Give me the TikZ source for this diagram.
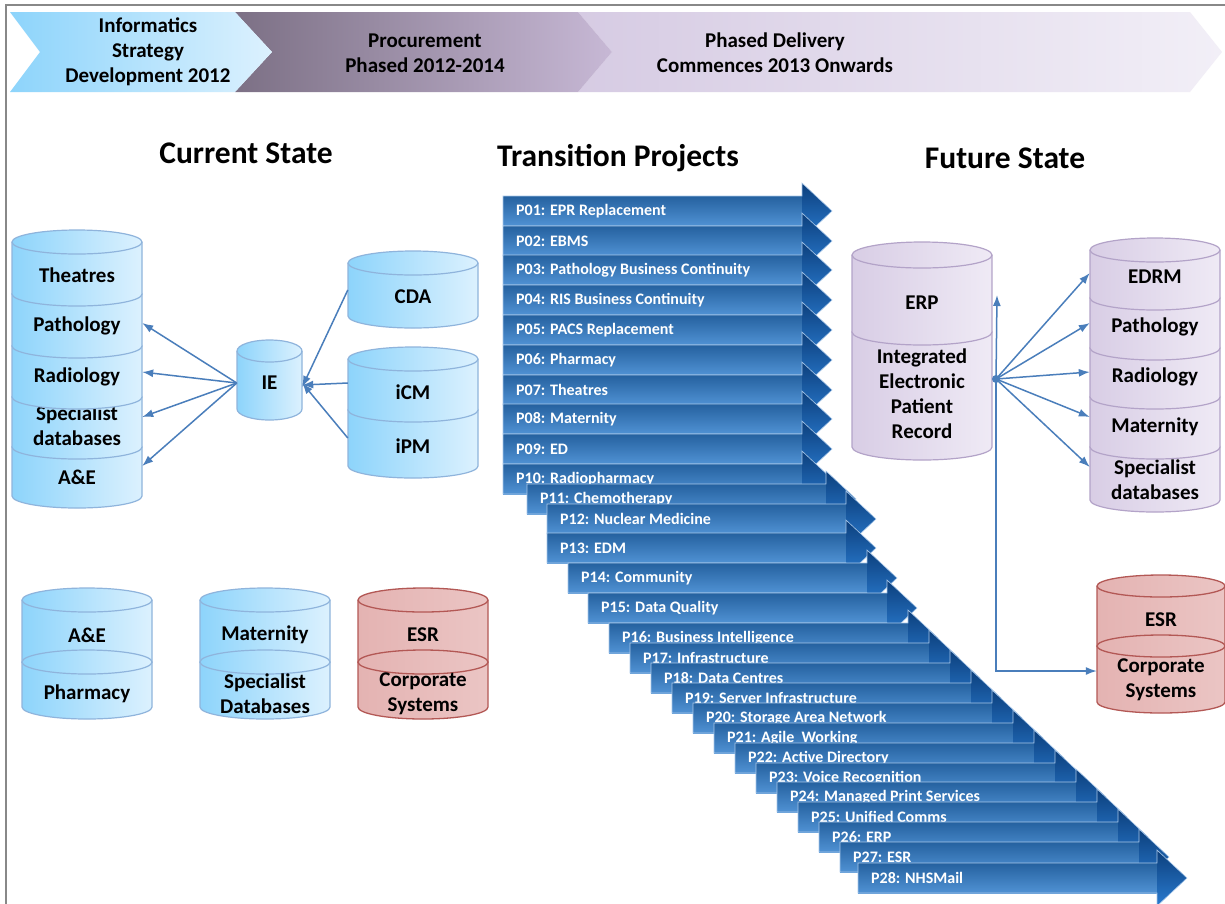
\documentclass[tikz,border=0pt]{standalone}
\usepackage{fontspec}
\setmainfont{Carlito}
\usetikzlibrary{arrows.meta,positioning}
\definecolor{sky}{HTML}{8DD4FB}
\definecolor{skypale}{HTML}{DCF1FE}
\definecolor{skyedge}{HTML}{8FB4DC}
\definecolor{lilac}{HTML}{D8CDE5}
\definecolor{lilacpale}{HTML}{EFEAF5}
\definecolor{lilacedge}{HTML}{B3A3C8}
\definecolor{rose}{HTML}{E4B3B2}
\definecolor{rosepale}{HTML}{EBC5C4}
\definecolor{roseedge}{HTML}{B35855}
\definecolor{mauve}{HTML}{7C7085}
\definecolor{mauvepale}{HTML}{C7B8D5}
\definecolor{haze}{HTML}{D6CBE3}
\definecolor{hazepale}{HTML}{F2EFF7}
\definecolor{navy}{HTML}{25619F}
\definecolor{azure}{HTML}{5092D4}
\definecolor{inkblue}{HTML}{0C3F7C}
\definecolor{brightblue}{HTML}{2A7BD0}
\definecolor{barline}{HTML}{A9C8EA}
\definecolor{link}{HTML}{4A7EBB}
\definecolor{frame}{HTML}{888888}

\newcommand\drumry{12}
% drum body: style, left, width, lid y, base y
\newcommand\drum[5]{%
  \path[#1] (#2,#4) -- (#2,#5)
    arc[start angle=180,end angle=0,x radius=#3/2,y radius=\drumry]
    -- (#2+#3,#4)
    arc[start angle=0,end angle=-180,x radius=#3/2,y radius=\drumry] -- cycle;}
% front rim of a drum lid
\newcommand\lid[4]{%
  \draw[#1] (#2,#4) arc[start angle=180,end angle=0,x radius=#3/2,y radius=\drumry];}

\begin{document}
\begin{tikzpicture}[x=1pt,y=-1pt,
  bluedb/.style={draw=skyedge,line width=1.2pt,left color=sky,right color=skypale},
  bluerim/.style={draw=skyedge,line width=1.2pt},
  lilacdb/.style={draw=lilacedge,line width=1.2pt,left color=lilac,right color=lilacpale},
  lilacrim/.style={draw=lilacedge,line width=1.2pt},
  rosedb/.style={draw=roseedge,line width=1.3pt,left color=rose,right color=rosepale},
  roserim/.style={draw=roseedge,line width=1.3pt},
  lbl/.style={font=\fontsize{21}{25}\selectfont\bfseries,align=center,inner sep=0pt},
  title/.style={font=\fontsize{31.5}{36}\selectfont\bfseries,inner sep=0pt},
  phase/.style={font=\fontsize{21}{25}\selectfont\bfseries,align=center,inner sep=0pt},
  bar/.style={top color=navy,bottom color=azure},
  barhead/.style={top color=inkblue,bottom color=brightblue},
  barrim/.style={draw=barline,line width=0.6pt},
  bartext/.style={font=\fontsize{16}{18}\selectfont\bfseries,text=white,inner sep=0pt,anchor=west},
  arr/.style={draw=link,line width=1.5pt,-{Latex[length=11pt,width=8pt]}}
]
\useasboundingbox (0,0) rectangle (1225,903);
\clip (0,0) rectangle (1225,903);
\fill[white] (0,0) rectangle (1225,903);
\draw[frame,line width=2pt] (6,910) -- (6,5) -- (1230,5);

% phases along the top
\path[left color=haze,right color=hazepale]
  (578,12) -- (1190,12) -- (1222,52) -- (1190,92) -- (578,92) -- (612,52) -- cycle;
\path[left color=mauve,right color=mauvepale]
  (235,12) -- (578,12) -- (612,52) -- (578,92) -- (235,92) -- (272,52) -- cycle;
\path[left color=sky,right color=skypale]
  (10,12) -- (235,12) -- (272,52) -- (235,92) -- (10,92) -- (40,52) -- cycle;
\node[phase] (strat) at (148,52) {Informatics\\Strategy\\Development 2012};
\node[phase] (proc) at (425,53) {Procurement\\Phased 2012-2014};
\node[phase] (deliv) at (775,53) {Phased Delivery\\Commences 2013 Onwards};

% headings
\node[title] (cur) at (246,153) {Current State};
\node[title] (trans) at (618,158) {Transition Projects};
\node[title] (fut) at (1005,158) {Future State};

% current state: clinical stack
\foreach \nm/\a/\b/\ty/\txt in {aeL/447/496/477/A\&E,specL/397/447/426/{Specialist\\databases},
    radL/346/397/377/Radiology,pathL/294/346/326/Pathology,theatres/242/294/275/Theatres}{
  \drum{bluedb}{12}{130}{\a}{\b}
  \node[lbl,minimum width=130pt] (\nm) at (77,\ty) {\txt};
}
\lid{bluerim}{12}{130}{242}

% integration engine and feeds
\renewcommand\drumry{11}
\drum{bluedb}{237}{65}{351}{409}
\lid{bluerim}{237}{65}{351}
\node[lbl,minimum width=65pt] (ie) at (269.5,383) {IE};
\renewcommand\drumry{12}
\drum{bluedb}{348}{130}{263}{316}
\lid{bluerim}{348}{130}{263}
\node[lbl,minimum width=130pt] (cda) at (413,297) {CDA};
\drum{bluedb}{348}{130}{410}{466}
\node[lbl,minimum width=130pt] (ipm) at (413,446) {iPM};
\drum{bluedb}{348}{130}{359}{410}
\lid{bluerim}{348}{130}{359}
\node[lbl,minimum width=130pt] (icm) at (413,392) {iCM};

\foreach \t/\s in {pathL/3,radL/5,specL/9,aeL/11}{
  \draw[arr] (ie.west) -- ([yshift=\s pt]\t.east);
}
\draw[arr] ([yshift=7pt]cda.west) -- ([yshift=-4pt]ie.east);
\draw[arr] ([yshift=9pt]icm.west) -- ([yshift=-2pt]ie.east);
\draw[arr] ([yshift=8pt]ipm.west) -- (ie.east);

% current state: standalone systems
\foreach \x/\nm/\txt/\mm/\bt/\sty in {22/aeB/A\&E/pharm/Pharmacy/blue,
    200/matB/Maternity/specB/{Specialist\\Databases}/blue,
    358/esrB/ESR/corpB/{Corporate\\Systems}/rose}{
  \drum{\sty db}{\x}{130}{600}{662}
  \lid{\sty rim}{\x}{130}{600}
  \node[lbl,minimum width=130pt] (\nm) at (\x+65,635) {\txt};
  \drum{\sty db}{\x}{130}{662}{707}
  \lid{\sty rim}{\x}{130}{662}
  \node[lbl,minimum width=130pt] (\mm) at (\x+65,694) {\bt};
}

% transition projects
\foreach \n/\l/\c/\t in {01/503/211/EPR Replacement,02/503/241/EBMS,
    03/503/270/Pathology Business Continuity,04/503/300/RIS Business Continuity,
    05/503/330/PACS Replacement,06/503/360/Pharmacy,07/503/390/Theatres,
    08/503/419/Maternity,09/503/449/ED,10/503/479/Radiopharmacy,
    11/527/499/Chemotherapy,12/547/519/Nuclear Medicine,13/547/548/EDM,
    14/568/578/Community,15/588/608/Data Quality,16/609/638/Business Intelligence,
    17/630/658/Infrastructure,18/651/678/Data Centres,19/672/698/Server Infrastructure,
    20/693/718/Storage Area Network,21/714/738/Agile~ Working,22/735/758/Active Directory,
    23/756/778/Voice Recognition,24/777/797/Managed Print Services,
    25/798/817/Unified Comms,26/819/837/ERP,27/840/857/ESR,28/858/878/NHSMail}{
  \path[bar] (\l,\c-15) rectangle (\l+299.5,\c+15);
  \path[barhead] (\l+299,\c-28) -- (\l+329,\c) -- (\l+299,\c+28) -- cycle;
  \path[barrim] (\l,\c-15) -- (\l+299,\c-15) -- (\l+299,\c-28) -- (\l+329,\c)
    -- (\l+299,\c+28) -- (\l+299,\c+15) -- (\l,\c+15) -- cycle;
  \node[bartext] (p\n) at (\l+13,\c) {P\n: \t};
}

% future state: integrated record
\renewcommand\drumry{13}
\drum{lilacdb}{852}{140}{332}{447}
\node[lbl,minimum width=140pt] (iepr) at (922,394)
  {Integrated\\Electronic\\Patient\\Record};
\drum{lilacdb}{852}{140}{255}{332}
\lid{lilacrim}{852}{140}{255}
\node[lbl,minimum width=140pt] (erp) at (922,303) {ERP};

% future state: departmental stack
\renewcommand\drumry{12}
\foreach \nm/\a/\b/\ty/\txt in {specR/447/500/480/{Specialist\\databases},
    matR/397/447/427/Maternity,radR/348/397/377/Radiology,
    pathR/298/348/327/Pathology,edrm/250/298/277/EDRM}{
  \drum{lilacdb}{1090}{130}{\a}{\b}
  \node[lbl,minimum width=130pt] (\nm) at (1155,\ty) {\txt};
}
\lid{lilacrim}{1090}{130}{250}

% future state: corporate systems
\renewcommand\drumry{11}
\drum{rosedb}{1097}{128}{586}{646}
\lid{roserim}{1097}{128}{586}
\node[lbl,minimum width=128pt] (esrR) at (1161,620) {ESR};
\drum{rosedb}{1097}{128}{646}{702}
\lid{roserim}{1097}{128}{646}
\node[lbl,minimum width=128pt] (corpR) at (1161,680) {Corporate\\Systems};

% links out of the record
\coordinate (hub) at (996,379);
\coordinate (erpup) at (997,295);
\foreach \t/\s in {edrm/4,pathR/4,radR/5,matR/10,specR/13}{
  \draw[arr] (hub) -- ([yshift=\s pt]\t.west);
}
\draw[arr] (hub) -- (erpup);
\draw[arr] (hub) |- ([yshift=9pt]corpR.west);
\fill[link] (hub) circle[radius=4];
\end{tikzpicture}
\end{document}
